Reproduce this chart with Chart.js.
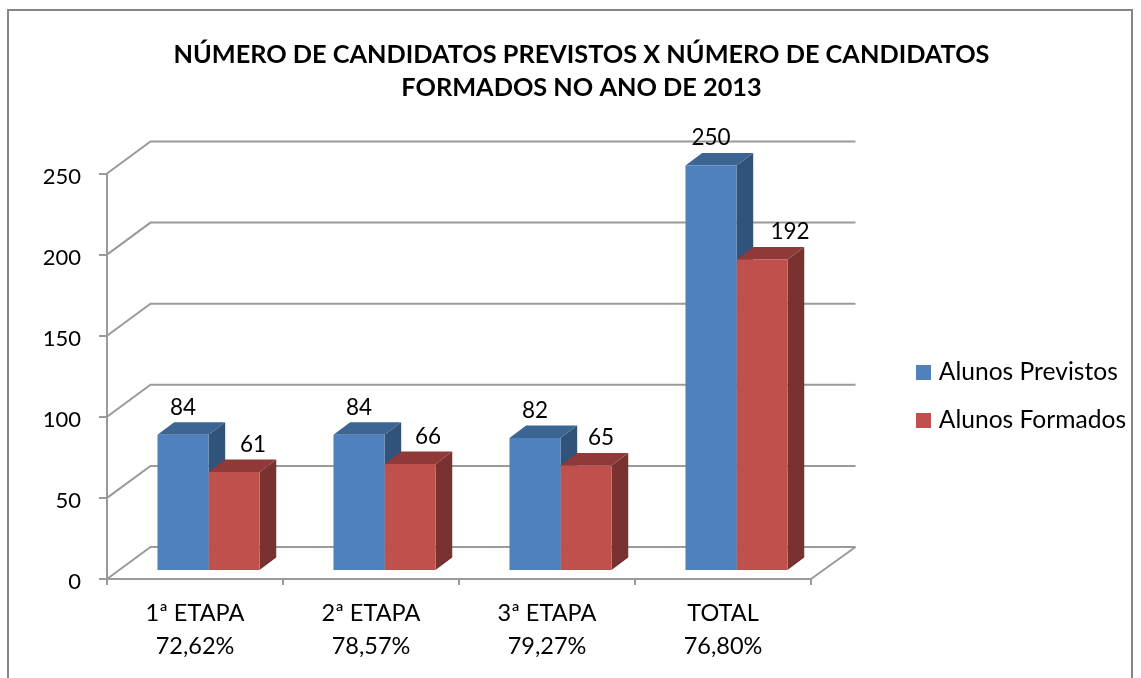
<!DOCTYPE html>
<html><head><meta charset="utf-8">
<style>html,body{margin:0;padding:0;background:#fff;overflow:hidden}canvas{display:block}</style>
<script src="https://cdn.jsdelivr.net/npm/chart.js@4"></script></head>
<body><canvas id="c" width="1141" height="678"></canvas>
<script>
const categories=[['1ª ETAPA','72,62%'],['2ª ETAPA','78,57%'],['3ª ETAPA','79,27%'],['TOTAL','76,80%']];
const alunosPrevistos=[84,84,82,250];
const alunosFormados=[61,66,65,192];
const yTicks=[0,50,100,150,200,250];
const titleLines=['NÚMERO DE CANDIDATOS PREVISTOS X NÚMERO DE CANDIDATOS','FORMADOS NO ANO DE 2013'];
const labelShiftPrevistos=[0,0,0,0];
const labelShiftFormados=[19,18,15,28];
const seriesColors=['#4f81bd','#c0504d'];
const FONT='Lato, "Open Sans", sans-serif';
const GRAY='#9a9a9a';
const wall={dx:44.5,dy:-32};
const bar={dx:13.5,dy:-8,sx:16.7,sy:-12.5};
const faces=[{top:'#3d6594',side:'#31527b'},{top:'#8f3a38',side:'#7a3231'}];
function swatch(col){const s=document.createElement('canvas');s.width=15;s.height=15;const g=s.getContext('2d');g.fillStyle=col;g.fillRect(0,0,15,15);return s;}
const swatches=seriesColors.map(swatch);
const plugin3d={
  id:'plugin3d',
  beforeLayout(chart){
    const lg=chart.legend;
    if(lg&&!lg._wrapped){const f=lg.fit;lg.fit=function(){f.call(this);this.width=330;};lg._wrapped=true;}
  },
  afterLayout(chart){
    const lg=chart.legend;
    lg.left=897.1;lg.right=1141;lg.top=322;lg.bottom=470;
    chart.titleBlock.left=22;
  },
  beforeDraw(chart){
    const c=chart.ctx;c.save();c.strokeStyle='#868686';c.lineWidth=2;
    c.strokeRect(8,10,1124,680);c.restore();
  },
  beforeDatasetsDraw(chart){
    const c=chart.ctx,x=chart.scales.x,y=chart.scales.y,l=x.left,r=x.right;
    c.save();c.strokeStyle=GRAY;c.lineWidth=2;
    yTicks.forEach(v=>{const p=y.getPixelForValue(v);
      c.beginPath();c.moveTo(l,p);c.lineTo(l+wall.dx-1,p+wall.dy);c.lineTo(r+wall.dx,p+wall.dy);c.stroke();});
    const p0=y.getPixelForValue(0);
    c.beginPath();c.moveTo(r,p0);c.lineTo(r+wall.dx,p0+wall.dy);c.stroke();
    c.restore();
    c.save();c.translate(bar.dx,bar.dy);
    [0,1].forEach(i=>{const f=faces[i];
      chart.getDatasetMeta(i).data.forEach(b=>{
        const L=b.x-b.width/2,R=b.x+b.width/2,t=b.y,bt=b.base;
        c.fillStyle=f.side;c.beginPath();c.moveTo(R,t);c.lineTo(R+bar.sx,t+bar.sy);c.lineTo(R+bar.sx,bt+bar.sy);c.lineTo(R,bt);c.closePath();c.fill();
        c.fillStyle=f.top;c.beginPath();c.moveTo(L,t);c.lineTo(L+bar.sx,t+bar.sy);c.lineTo(R+bar.sx,t+bar.sy);c.lineTo(R,t);c.closePath();c.fill();
      });
    });
    c.restore();
  },
  beforeDatasetDraw(chart){const c=chart.ctx;c.save();c.translate(bar.dx,bar.dy);},
  afterDatasetDraw(chart){chart.ctx.restore();},
  afterDatasetsDraw(chart){
    const c=chart.ctx;c.save();c.fillStyle='#000';c.font='22.5px '+FONT;c.textAlign='center';c.textBaseline='middle';
    [labelShiftPrevistos,labelShiftFormados].forEach((sh,i)=>{
      chart.getDatasetMeta(i).data.forEach((b,j)=>{
        c.fillText(String(chart.data.datasets[i].data[j]),b.x+bar.dx+sh[j],b.y+bar.dy-27.5);
      });
    });
    c.restore();
  }
};
new Chart(document.getElementById('c'),{
  type:'bar',
  data:{labels:categories,datasets:[
    {label:'Alunos Previstos',data:alunosPrevistos,backgroundColor:seriesColors[0],clip:false},
    {label:'Alunos Formados',data:alunosFormados,backgroundColor:seriesColors[1],clip:false}
  ]},
  options:{
    responsive:false,animation:false,devicePixelRatio:1,
    layout:{padding:0},
    datasets:{bar:{categoryPercentage:0.58,barPercentage:1,borderWidth:0}},
    plugins:{
      tooltip:{enabled:false},
      title:{display:true,text:titleLines,color:'#000',align:'center',
        font:{family:FONT,size:25.3,weight:'bold',lineHeight:33/25.3},
        padding:{top:38,bottom:69.5}},
      legend:{display:true,position:'right',align:'center',
        labels:{usePointStyle:true,pointStyleWidth:6,boxWidth:6,boxHeight:15,padding:23.4,color:'#000',font:{family:FONT,size:24.6},
          generateLabels(chart){
            const items=Chart.defaults.plugins.legend.labels.generateLabels(chart);
            items.forEach((it,i)=>{it.pointStyle=swatches[i];});
            return items;
          }}}
    },
    scales:{
      x:{offset:true,
        afterFit(s){s.height=99;},
        border:{color:GRAY,width:2},
        grid:{display:true,drawOnChartArea:false,drawTicks:true,tickLength:6,offset:true,color:GRAY,lineWidth:2},
        ticks:{color:'#000',maxRotation:0,autoSkip:false,padding:12,font:{family:FONT,size:23.5,lineHeight:33/23.5}}},
      y:{min:0,max:250,
        afterFit(s){s.width=107;},
        afterBuildTicks(s){
          s.ticks=yTicks.map(v=>({value:v}));
          if(!s._shifted){const g=s._computeLabelItems;s._computeLabelItems=function(a){const it=g.call(this,a);it.forEach(i=>{i.textOffset+=3;});return it;};s._shifted=true;}
        },
        border:{color:GRAY,width:2},
        grid:{display:true,drawOnChartArea:false,drawTicks:true,tickLength:8,color:GRAY,lineWidth:2},
        ticks:{color:'#000',padding:18,font:{family:FONT,size:22}}}
    }
  },
  plugins:[plugin3d]
});
</script></body></html>
